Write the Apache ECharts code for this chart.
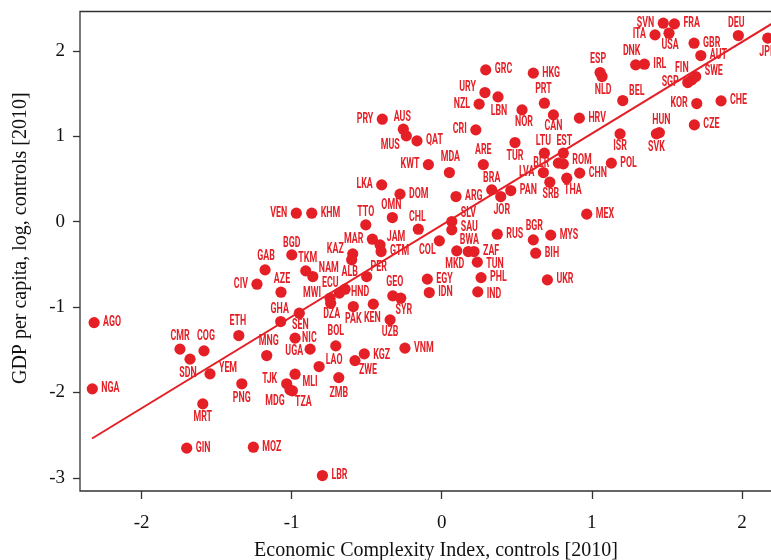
<!DOCTYPE html>
<html>
<head>
<meta charset="utf-8">
<script src="https://cdn.jsdelivr.net/npm/echarts@6/dist/echarts.min.js"></script>
<style>
  html, body { margin: 0; padding: 0; background: #fff; }
  #chart { width: 771px; height: 560px; }
</style>
</head>
<body>
<div id="chart"></div>
<script>
// Country codes with Economic Complexity Index (x) and log GDP per capita (y), both net of controls, 2010
const codes = [
  'SVN','FRA','ITA','USA','DEU','JPN','GBR','AUT','DNK','IRL','ESP','NLD','FIN','SWE','SGP','BEL',
  'KOR','CHE','HRV','HUN','SVK','CZE','ISR','POL','HKG','PRT','CAN','NOR','GRC','URY','LBN','NZL',
  'CRI','PRY','AUS','MUS','QAT','KWT','MDA','ARE','TUR','LTU','EST','BLR','ROM','LVA','CHN','SRB',
  'THA','BRA','JOR','PAN','ARG','LKA','DOM','OMN','TTO','CHL','VEN','KHM','MEX','SLV','SAU','COL',
  'RUS','BGR','MYS','BIH','MKD','BWA','ZAF','TUN','EGY','IDN','PHL','IND','UKR','MAR','JAM','GTM',
  'KAZ','ALB','PER','BGD','GAB','TKM','NAM','CIV','AZE','ECU','HND','MWI','DZA','GEO','SYR','PAK',
  'KEN','UZB','GHA','SEN','AGO','ETH','CMR','COG','SDN','NIC','UGA','BOL','VNM','MNG','KGZ','ZWE',
  'LAO','YEM','MLI','ZMB','TJK','PNG','NGA','MDG','TZA','MRT','GIN','MOZ','LBR'
];
const eci = [
  1.476, 1.550, 1.421, 1.514, 1.976, 2.172, 1.681, 1.726, 1.292, 1.350, 1.055, 1.068, 1.666, 1.692, 1.639, 1.206,
  1.699, 1.861, 0.917, 1.450, 1.430, 1.683, 1.188, 1.130, 0.610, 0.684, 0.744, 0.535, 0.293, 0.288, 0.375, 0.249,
  0.227, -0.396, -0.256, -0.236, -0.165, -0.089, 0.051, 0.277, 0.488, 0.684, 0.810, 0.777, 0.810, 0.677, 0.919, 0.720,
  0.833, 0.333, 0.393, 0.460, 0.095, -0.400, -0.278, -0.329, -0.506, -0.156, -0.969, -0.866, 0.966, 0.067, 0.067, -0.016,
  0.370, 0.610, 0.726, 0.626, 0.100, 0.177, 0.215, 0.237, -0.096, -0.083, 0.262, 0.240, 0.704, -0.462, -0.411, -0.404,
  -0.593, -0.600, -0.500, -0.999, -1.177, -0.906, -0.859, -1.231, -1.071, -0.682, -0.644, -0.744, -0.740, -0.326, -0.273, -0.589,
  -0.456, -0.344, -1.073, -0.949, -2.316, -1.352, -1.744, -1.584, -1.677, -0.977, -0.877, -0.706, -0.245, -1.166, -0.516, -0.578,
  -0.817, -1.544, -0.977, -0.686, -1.033, -1.332, -2.328, -1.011, -0.995, -1.592, -1.699, -1.255, -0.795
];
const gdp = [
  2.323, 2.315, 2.186, 2.206, 2.178, 2.148, 2.089, 1.944, 1.835, 1.843, 1.745, 1.698, 1.659, 1.698, 1.628, 1.417,
  1.382, 1.413, 1.211, 1.042, 1.027, 1.132, 1.027, 0.684, 1.738, 1.386, 1.249, 1.308, 1.776, 1.511, 1.460, 1.375,
  1.074, 1.199, 1.082, 1.004, 0.945, 0.667, 0.574, 0.667, 0.925, 0.801, 0.801, 0.684, 0.676, 0.574, 0.567, 0.461,
  0.508, 0.371, 0.293, 0.363, 0.293, 0.430, 0.321, 0.047, -0.039, -0.089, 0.098, 0.098, 0.087, 0.000, -0.097, -0.226,
  -0.148, -0.214, -0.159, -0.370, -0.343, -0.351, -0.351, -0.475, -0.674, -0.831, -0.656, -0.823, -0.683, -0.206, -0.273, -0.351,
  -0.378, -0.448, -0.644, -0.390, -0.566, -0.577, -0.644, -0.733, -0.827, -0.838, -0.792, -0.897, -0.956, -0.870, -0.897, -0.995,
  -0.967, -1.151, -1.171, -1.073, -1.183, -1.335, -1.494, -1.514, -1.611, -1.365, -1.494, -1.456, -1.482, -1.569, -1.549, -1.628,
  -1.698, -1.783, -1.787, -1.827, -1.900, -1.900, -1.959, -1.971, -1.982, -2.135, -2.653, -2.642, -2.974
];

// Fitted regression line, endpoints
const fitEci = [-2.33, 2.24];
const fitGdp = [-2.54, 2.36];

const xTicks = [-2, -1, 0, 1, 2];
const yTicks = [-3, -2, -1, 0, 1, 2];

const RED = '#e41f26';

// Where each code's label sits relative to its dot:
// 'r' / 'l' = right / left of the dot (with optional extra dx, dy); 'c' = centred at offset dx, dy
const place = {
  SVN:['l'], FRA:['r'], ITA:['l'], USA:['c',1,12], DEU:['c',-2,-12], JPN:['c',0,14], GBR:['r'], AUT:['r'],
  DNK:['c',-4,-13], IRL:['r'], ESP:['c',-2,-13], NLD:['c',1,14], FIN:['c',-10,-11], SWE:['r',0,-5], SGP:['l'],
  BEL:['c',14,-9], KOR:['l'], CHE:['r'], HRV:['r'], HUN:['c',2,-12], SVK:['c',0,14], CZE:['r'], ISR:['c',0,13],
  POL:['r'], HKG:['r'], PRT:['c',-1,-14], CAN:['c',0,12], NOR:['c',2,13], GRC:['r'], URY:['l',0,-5],
  LBN:['c',1,15], NZL:['l'], CRI:['l'], PRY:['l'], AUS:['c',-1,-12], MUS:['c',-16,10], QAT:['r'], KWT:['l'],
  MDA:['c',1,-15], ARE:['c',0,-14], TUR:['c',0,14], LTU:['c',-1,-12], EST:['c',1,-12], BLR:['l'], ROM:['r',0,-3],
  LVA:['l'], CHN:['r'], SRB:['c',1,12], THA:['c',6,12], BRA:['c',0,-11], JOR:['c',1,14], PAN:['r'], ARG:['r'],
  LKA:['l'], DOM:['r'], OMN:['c',-1,-12], TTO:['c',0,-12], CHL:['c',-1,-12], VEN:['l'], KHM:['r'], MEX:['r'],
  SLV:['r',0,-8], SAU:['r',0,-2], COL:['c',-12,10], RUS:['r'], BGR:['c',1,-13], MYS:['r'], BIH:['r'],
  MKD:['c',-2,14], BWA:['c',1,-11], ZAF:['r'], TUN:['r',0,2], EGY:['r'], IDN:['r'], PHL:['r'], IND:['r',0,3],
  UKR:['r'], MAR:['l'], JAM:['c',16,-7], GTM:['r'], KAZ:['l',0,-4], ALB:['c',-2,13], PER:['c',12,-9],
  BGD:['c',0,-11], GAB:['c',1,-13], TKM:['c',2,-12], NAM:['c',16,-8], CIV:['l'], AZE:['c',1,-13],
  ECU:['c',-9,-10], HND:['r',-3,3], MWI:['l',0,-5], DZA:['c',1,11], GEO:['c',2,-13], SYR:['c',3,12],
  PAK:['c',0,13], KEN:['c',-1,14], UZB:['c',0,13], GHA:['c',-1,-12], SEN:['c',1,12], AGO:['r'],
  ETH:['c',-1,-14], CMR:['c',0,-13], COG:['c',2,-14], SDN:['c',-2,14], NIC:['r',-2,0], UGA:['l',2,2],
  BOL:['c',0,-14], VNM:['r'], MNG:['c',2,-14], KGZ:['r',0,2], ZWE:['c',13,10], LAO:['c',15,-6],
  YEM:['c',18,-5], MLI:['c',15,8], ZMB:['c',0,16], TJK:['c',-17,-4], PNG:['c',0,15], NGA:['r'],
  MDG:['c',-15,12], TZA:['c',11,12], MRT:['c',0,14], GIN:['r'], MOZ:['r'], LBR:['r']
};

function labelSpec(code) {
  const p = place[code] || ['r'];
  const kind = p[0], a = p[1] || 0, b = p[2] || 0;
  if (kind === 'r') return { dx: 9 + a, dy: b, align: 'left' };
  if (kind === 'l') return { dx: -9 + a, dy: b, align: 'right' };
  return { dx: a, dy: b, align: 'center' };
}

const points = codes.map((c, i) => [eci[i], gdp[i]]);
const fitData = fitEci.map((x, i) => [x, fitGdp[i]]);

const serif = '"Liberation Serif", "DejaVu Serif", serif';

const chart = echarts.init(document.getElementById('chart'), null, { renderer: 'canvas' });

chart.setOption({
  animation: false,
  backgroundColor: '#ffffff',
  textStyle: { fontFamily: serif },
  grid: {
    // the plot runs on past the right edge of the page, so its right border is off-canvas
    left: 80, top: 11.5, width: 694, height: 479.5,
    outerBoundsMode: 'none',
    containLabel: false,
    show: true, borderColor: '#333', borderWidth: 1.3, backgroundColor: 'transparent'
  },
  xAxis: {
    type: 'value', min: -2.41, max: 2.2136,
    name: 'Economic Complexity Index, controls [2010]',
    nameLocation: 'middle', nameGap: 50,
    nameTextStyle: { fontFamily: serif, fontSize: 20, color: '#111', padding: [0, 0, 0, 18] },
    axisLine: { show: false, onZero: false },
    splitLine: { show: false },
    axisTick: { show: true, customValues: xTicks, length: 8, lineStyle: { color: '#333', width: 1.3 } },
    axisLabel: { customValues: xTicks, fontFamily: serif, fontSize: 19, color: '#111', margin: 23,
      formatter: v => String(v) }
  },
  yAxis: {
    type: 'value', min: -3.155, max: 2.46,
    name: 'GDP per capita, log, controls [2010]',
    nameLocation: 'middle', nameGap: 49, nameRotate: 90,
    nameTextStyle: { fontFamily: serif, fontSize: 20, color: '#111', padding: [0, 0, 0, 26] },
    axisLine: { show: false, onZero: false },
    splitLine: { show: false },
    axisTick: { show: true, customValues: yTicks, length: 7, lineStyle: { color: '#333', width: 1.3 } },
    axisLabel: { customValues: yTicks, fontFamily: serif, fontSize: 19, color: '#111', margin: 15,
      formatter: v => String(v) }
  },
  series: [
    {
      type: 'line',
      data: fitData,
      symbol: 'none',
      clip: false,
      z: 1,
      lineStyle: { color: RED, width: 2 },
      silent: true
    },
    {
      type: 'custom',
      data: points,
      encode: { x: 0, y: 1 },
      z: 2,
      renderItem: function (params, api) {
        const p = api.coord([api.value(0), api.value(1)]);
        const code = codes[params.dataIndex];
        const s = labelSpec(code);
        return {
          type: 'group',
          children: [
            { type: 'circle', shape: { cx: p[0], cy: p[1], r: 5.6 }, style: { fill: RED } },
            {
              type: 'text',
              x: p[0] + s.dx, y: p[1] + s.dy,
              scaleX: 0.63,
              style: {
                text: code, fill: RED,
                font: 'bold 14px Roboto, "Open Sans", sans-serif',
                align: s.align, verticalAlign: 'middle'
              }
            }
          ]
        };
      }
    }
  ]
});
</script>
</body>
</html>
